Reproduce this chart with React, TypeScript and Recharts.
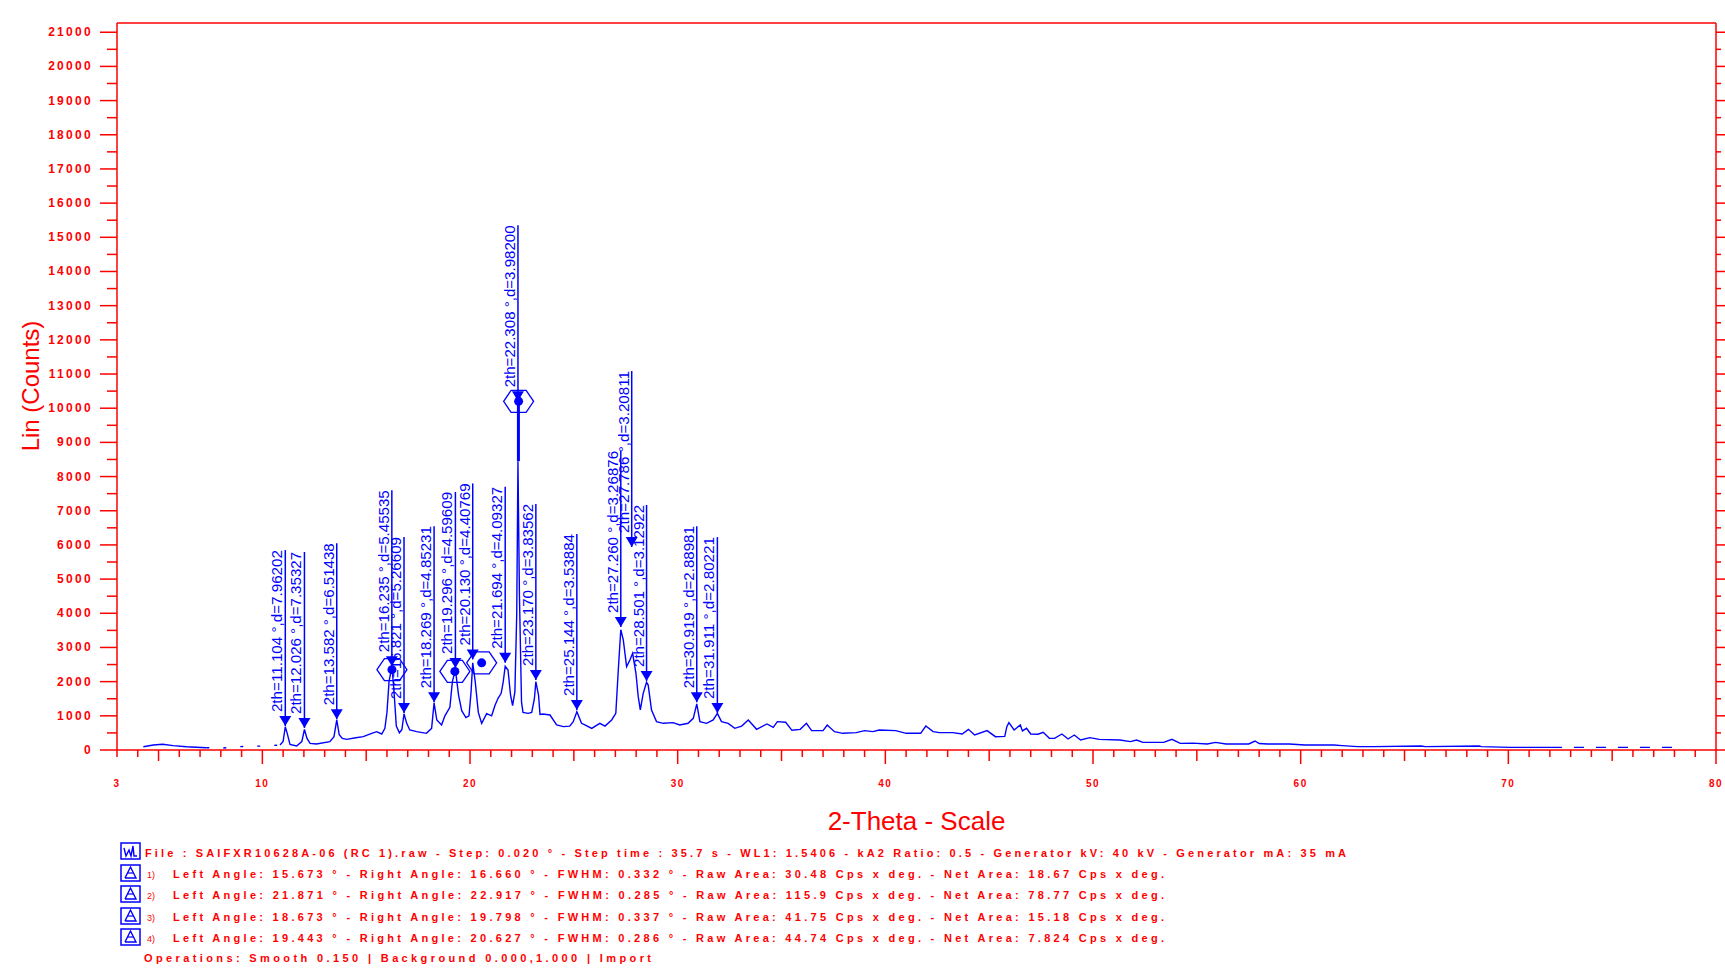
import {
  ComposedChart,
  Line,
  Scatter,
  XAxis,
  YAxis,
  ReferenceLine,
} from "recharts";

const RED = "#ff0000";
const BLUE = "#0000ff";
const FONT = "'Liberation Sans', Arial, sans-serif";

// scan, first solid stretch
const startTheta = [4.27, 4.75, 5.2, 5.7, 6.35, 7.3];
const startCounts = [97, 146, 167, 127, 97, 68];

// low-angle dotted stretch
const lowTailTheta = [7.3, 8.0, 8.9, 10.05, 10.85];
const lowTailCounts = [68, 55, 98, 117, 146];

// main scan
const scanTheta = [
  10.85, 11.0, 11.104, 11.2, 11.33, 11.65, 11.9, 12.026, 12.15, 12.3, 12.6, 13.25, 13.45, 13.582, 13.7,
  13.85, 14.06, 14.5, 14.86, 15.2, 15.5, 15.75, 15.9, 16.0, 16.1, 16.235, 16.33, 16.45, 16.6, 16.72,
  16.821, 16.95, 17.1, 17.43, 17.9, 18.15, 18.269, 18.4, 18.63, 18.79, 19.03, 19.15, 19.296, 19.45, 19.6,
  19.8, 19.95, 20.05, 20.13, 20.25, 20.4, 20.56, 20.8, 21.04, 21.2, 21.35, 21.5, 21.6, 21.694, 21.83,
  21.95, 22.05, 22.16, 22.25, 22.308, 22.38, 22.48, 22.55, 22.8, 22.97, 23.1, 23.17, 23.3, 23.37, 23.5,
  23.85, 24.17, 24.5, 24.8, 24.97, 25.144, 25.37, 25.53, 25.86, 26.25, 26.5, 26.82, 27.02, 27.14, 27.26,
  27.38, 27.54, 27.7, 27.83, 27.99, 28.1, 28.2, 28.34, 28.5, 28.58, 28.74, 28.98, 29.3, 29.78, 30.1,
  30.5, 30.75, 30.919, 31.07, 31.39, 31.71, 31.911, 32.11, 32.43, 32.75, 33.08, 33.4, 33.8, 34.3, 34.6,
  34.8, 35.2, 35.5, 35.9, 36.2, 36.45, 37.0, 37.2, 37.55, 37.95, 38.6, 39.0, 39.4, 39.7, 40.5,
  41.0, 41.7, 41.95, 42.3, 42.6, 43.25, 43.7, 44.0, 44.3, 44.9, 45.3, 45.75, 45.85, 45.95, 46.2,
  46.5, 46.6, 46.8, 47.0, 47.35, 47.6, 47.9, 48.15, 48.5, 48.8, 49.1, 49.4, 49.85, 50.3, 51.3,
  51.8, 52.1, 52.4, 53.4, 53.8, 54.2, 54.8, 55.5, 55.9, 56.4, 57.5, 57.8, 58.0, 58.4, 59.45,
  60.2, 61.6, 62.0, 62.75, 63.5, 65.8, 66.0, 68.6, 68.7, 70.1, 72.1,
];
const scanCounts = [
  146, 250, 680, 480, 160, 117, 244, 600, 340, 195, 175, 244, 390, 880, 450,
  341, 312, 360, 390, 470, 537, 468, 634, 1100, 2000, 2450, 1800, 700, 500, 600,
  1060, 780, 585, 537, 488, 634, 1380, 878, 732, 1000, 1250, 2000, 2350, 1600, 1150,
  950, 1000, 1700, 2550, 2000, 1100, 780, 1064, 1000, 1300, 1512, 1658, 2000, 2450, 2340,
  1610, 1300, 1700, 4000, 8450, 4500, 1400, 1100, 1073, 1100, 1500, 2000, 1600, 1040, 1053,
  1024, 732, 683, 700, 830, 1120, 780, 732, 634, 780, 700, 878, 1073, 2342, 3520,
  3220, 2440, 2634, 2830, 2244, 1561, 1171, 1658, 1980, 1900, 1171, 830, 781, 800, 732,
  781, 927, 1350, 830, 780, 878, 1073, 830, 780, 634, 700, 878, 605, 761, 664,
  830, 812, 576, 605, 780, 566, 566, 732, 537, 488, 507, 566, 537, 585, 566,
  488, 488, 702, 537, 507, 507, 468, 605, 439, 566, 390, 400, 683, 800, 585,
  732, 560, 635, 468, 460, 517, 341, 341, 468, 322, 439, 293, 361, 312, 293,
  244, 293, 224, 224, 312, 195, 200, 176, 224, 176, 176, 263, 190, 176, 176,
  146, 146, 127, 98, 98, 117, 98, 117, 98, 78, 78,
];

// high-angle dashed stretch
const highTailTheta = [72.1, 78.2];
const highTailCounts = [78, 78];

// peak search markers
const peakTheta = [
  11.104, 12.026, 13.582, 16.235, 16.821, 18.269, 19.296, 20.13, 21.694, 22.308, 23.17, 25.144,
  27.26, 27.786, 28.501, 30.919, 31.911,
];
const peakMark = [
  700, 645, 900, 2450, 1080, 1400, 2400, 2650, 2550, 10200, 2050, 1170, 3600, 5940, 2020, 1400, 1080,
];
const peakLabels = [
  "2th=11.104 °,d=7.96202",
  "2th=12.026 °,d=7.35327",
  "2th=13.582 °,d=6.51438",
  "2th=16.235 °,d=5.45535",
  "2th=16.821 °,d=5.26609",
  "2th=18.269 °,d=4.85231",
  "2th=19.296 °,d=4.59609",
  "2th=20.130 °,d=4.40769",
  "2th=21.694 °,d=4.09327",
  "2th=22.308 °,d=3.98200",
  "2th=23.170 °,d=3.83562",
  "2th=25.144 °,d=3.53884",
  "2th=27.260 °,d=3.26876",
  "2th=27.786 °,d=3.20811",
  "2th=28.501 °,d=3.12922",
  "2th=30.919 °,d=2.88981",
  "2th=31.911 °,d=2.80221",
];

// area markers (hexagons)
const areaTheta = [16.24, 22.34, 19.27, 20.56];
const areaCounts = [2350, 10200, 2300, 2550];
const mainPeakSpan = [8450, 10200];

// legend rows
const leftAngles = ["15.673", "21.871", "18.673", "19.443"];
const rightAngles = ["16.660", "22.917", "19.798", "20.627"];
const fwhms = ["0.332", "0.285", "0.337", "0.286"];
const rawAreas = ["30.48", "115.9", "41.75", "44.74"];
const netAreas = ["18.67", "78.77", "15.18", "7.824"];
const fileLine =
  "File : SAIFXR10628A-06 (RC 1).raw - Step: 0.020 ° - Step time : 35.7 s - WL1: 1.5406 - kA2 Ratio: 0.5 - Generator kV: 40 kV - Generator mA: 35 mA";
const opsLine = "Operations: Smooth 0.150 | Background 0.000,1.000 | Import";

const xTicks = Array.from({ length: 78 }, (_, i) => 3 + i);
const yTicks = Array.from({ length: 43 }, (_, i) => i * 500);
const Y_MAX = 21270;

const toRows = (xs: number[], ys: number[]) => xs.map((tth, i) => ({ tth, counts: ys[i] }));

const startRows = toRows(startTheta, startCounts);
const lowTailRows = toRows(lowTailTheta, lowTailCounts);
const scanRows = toRows(scanTheta, scanCounts);
const highTailRows = toRows(highTailTheta, highTailCounts);
const peakRows = peakTheta.map((tth, i) => ({ tth, counts: peakMark[i], label: peakLabels[i] }));
const areaRows = toRows(areaTheta, areaCounts);

function BottomTick({ x, y, payload }: any) {
  const v = payload.value;
  const len = v % 10 === 0 ? 14 : v % 5 === 0 ? 11 : 7;
  const showLabel = v % 10 === 0 || v === 3;
  return (
    <g>
      <line x1={x} y1={y} x2={x} y2={y + len} stroke={RED} strokeWidth={1.5} />
      {showLabel && (
        <text
          x={x}
          y={y + 37}
          textAnchor="middle"
          fontSize={10}
          fontWeight="bold"
          letterSpacing={1.5}
          fontFamily={FONT}
          fill={RED}
        >
          {v}
        </text>
      )}
    </g>
  );
}

function TopTick({ x, y, payload }: any) {
  const v = payload.value;
  const len = v % 10 === 0 ? 12 : v % 5 === 0 ? 9 : 6;
  return <line x1={x} y1={y} x2={x} y2={y - len} stroke={RED} strokeWidth={1.5} />;
}

function LeftTick({ x, y, payload }: any) {
  const v = payload.value;
  const major = v % 1000 === 0;
  return (
    <g>
      <line x1={x - (major ? 17 : 10)} y1={y} x2={x} y2={y} stroke={RED} strokeWidth={1.5} />
      {major && (
        <text
          x={x - 24}
          y={y + 4}
          textAnchor="end"
          fontSize={12}
          fontWeight="bold"
          letterSpacing={2.3}
          fontFamily={FONT}
          fill={RED}
        >
          {v}
        </text>
      )}
    </g>
  );
}

function RightTick({ x, y, payload }: any) {
  const major = payload.value % 1000 === 0;
  return <line x1={x} y1={y} x2={x + (major ? 9 : 5)} y2={y} stroke={RED} strokeWidth={1.5} />;
}

function PeakMarker({ cx, cy, payload }: any) {
  return (
    <g>
      <line x1={cx} y1={cy} x2={cx} y2={cy - 176} stroke={BLUE} strokeWidth={1.5} />
      <path d={`M${cx - 6},${cy - 10}L${cx + 6},${cy - 10}L${cx},${cy}Z`} fill={BLUE} />
      <text
        transform={`translate(${cx - 3},${cy - 14}) rotate(-90)`}
        fontSize={14}
        fill={BLUE}
        fontFamily={FONT}
        textLength={162}
        lengthAdjust="spacingAndGlyphs"
      >
        {payload.label}
      </text>
    </g>
  );
}

function AreaMarker({ cx, cy }: any) {
  const w = 15;
  const h = 11;
  const d = `M${cx - w},${cy}L${cx - w / 2},${cy - h}L${cx + w / 2},${cy - h}L${cx + w},${cy}L${cx + w / 2},${cy + h}L${cx - w / 2},${cy + h}Z`;
  return (
    <g>
      <path d={d} fill="none" stroke={BLUE} strokeWidth={1.3} />
      <circle cx={cx} cy={cy} r={4.5} fill={BLUE} />
    </g>
  );
}

function XTitle({ viewBox }: any) {
  return (
    <text
      x={viewBox.x + viewBox.width / 2}
      y={830}
      textAnchor="middle"
      fontSize={26}
      fontFamily={FONT}
      fill={RED}
    >
      2-Theta - Scale
    </text>
  );
}

function YTitle() {
  return (
    <text
      transform="translate(39,386) rotate(-90)"
      textAnchor="middle"
      fontSize={24}
      fontFamily={FONT}
      fill={RED}
    >
      Lin (Counts)
    </text>
  );
}

function FileIcon({ x, y }: { x: number; y: number }) {
  return (
    <g>
      <rect x={x} y={y} width={19} height={16} fill="none" stroke={BLUE} strokeWidth={1.5} />
      <polyline
        points={`${x + 3},${y + 5} ${x + 5},${y + 13} ${x + 8},${y + 7} ${x + 10},${y + 13} ${x + 12},${y + 3} ${x + 13},${y + 13} ${x + 16},${y + 13}`}
        fill="none"
        stroke={BLUE}
        strokeWidth={1.4}
      />
    </g>
  );
}

function AreaIcon({ x, y }: { x: number; y: number }) {
  return (
    <g>
      <rect x={x} y={y} width={19} height={16} fill="none" stroke={BLUE} strokeWidth={1.5} />
      <polyline
        points={`${x + 4},${y + 13} ${x + 9.5},${y + 2} ${x + 15},${y + 13} ${x + 4},${y + 13}`}
        fill="none"
        stroke={BLUE}
        strokeWidth={1.4}
      />
      <line x1={x + 7} y1={y + 8} x2={x + 12} y2={y + 8} stroke={BLUE} strokeWidth={1.2} />
    </g>
  );
}

function InfoBlock() {
  const textProps = {
    fontSize: 11,
    fontWeight: "bold" as const,
    fontFamily: FONT,
    fill: RED,
    lengthAdjust: "spacing" as const,
  };
  const rowY = [874, 895, 917, 938];
  return (
    <svg
      width={1725}
      height={968}
      style={{ position: "absolute", left: 0, top: 0, pointerEvents: "none" }}
    >
      <FileIcon x={121} y={843} />
      <text x={145} y={857} textLength={1201} {...textProps}>
        {fileLine}
      </text>
      {rowY.map((cy, i) => (
        <g key={i}>
          <AreaIcon x={121} y={cy - 9} />
          <text x={147} y={cy + 4} fontSize={9} fontFamily={FONT} fill={RED}>
            {`${i + 1})`}
          </text>
          <text x={173} y={cy + 4} textLength={991} {...textProps}>
            {`Left Angle: ${leftAngles[i]} ° - Right Angle: ${rightAngles[i]} ° - FWHM: ${fwhms[i]} ° - Raw Area: ${rawAreas[i]} Cps x deg. - Net Area: ${netAreas[i]} Cps x deg.`}
          </text>
        </g>
      ))}
      <text x={144} y={962} textLength={507} {...textProps}>
        {opsLine}
      </text>
    </svg>
  );
}

export default function App() {
  return (
    <div style={{ position: "absolute", left: 0, top: 0, width: 1725, height: 968, background: "#fff" }}>
      <ComposedChart width={1725} height={968} margin={{ top: 11, right: 0, bottom: 178, left: 0 }}>
        <XAxis
          type="number"
          dataKey="tth"
          domain={[3, 80]}
          allowDataOverflow
          ticks={xTicks}
          interval={0}
          tickSize={0}
          tickMargin={0}
          tickLine={false}
          tick={(p: any) => <BottomTick {...p} />}
          axisLine={{ stroke: RED, strokeWidth: 1.5 }}
          height={40}
          label={<XTitle />}
        />
        <XAxis
          xAxisId="top"
          orientation="top"
          type="number"
          domain={[3, 80]}
          allowDataOverflow
          ticks={xTicks}
          interval={0}
          tickSize={0}
          tickMargin={0}
          tickLine={false}
          tick={(p: any) => <TopTick {...p} />}
          axisLine={{ stroke: RED, strokeWidth: 1.5 }}
          height={12}
        />
        <YAxis
          type="number"
          domain={[0, Y_MAX]}
          allowDataOverflow
          ticks={yTicks}
          interval={0}
          tickSize={0}
          tickMargin={0}
          tickLine={false}
          tick={(p: any) => <LeftTick {...p} />}
          axisLine={{ stroke: RED, strokeWidth: 1.5 }}
          width={117}
          label={<YTitle />}
        />
        <YAxis
          yAxisId="right"
          orientation="right"
          type="number"
          domain={[0, Y_MAX]}
          allowDataOverflow
          ticks={yTicks}
          interval={0}
          tickSize={0}
          tickMargin={0}
          tickLine={false}
          tick={(p: any) => <RightTick {...p} />}
          axisLine={{ stroke: RED, strokeWidth: 1.5 }}
          width={9}
        />
        <Line data={startRows} dataKey="counts" stroke={BLUE} strokeWidth={1.4} dot={false} isAnimationActive={false} />
        <Line
          data={lowTailRows}
          dataKey="counts"
          stroke={BLUE}
          strokeWidth={1.4}
          strokeDasharray="3 14"
          dot={false}
          isAnimationActive={false}
        />
        <Line data={scanRows} dataKey="counts" stroke={BLUE} strokeWidth={1.4} dot={false} isAnimationActive={false} />
        <Line
          data={highTailRows}
          dataKey="counts"
          stroke={BLUE}
          strokeWidth={1.4}
          strokeDasharray="10 12"
          dot={false}
          isAnimationActive={false}
        />
        <ReferenceLine
          segment={[
            { x: 22.33, y: mainPeakSpan[0] },
            { x: 22.33, y: mainPeakSpan[1] },
          ]}
          stroke={BLUE}
          strokeWidth={3}
        />
        <Scatter data={peakRows} dataKey="counts" shape={(p: any) => <PeakMarker {...p} />} isAnimationActive={false} />
        <Scatter data={areaRows} dataKey="counts" shape={(p: any) => <AreaMarker {...p} />} isAnimationActive={false} />
      </ComposedChart>
      <InfoBlock />
    </div>
  );
}
